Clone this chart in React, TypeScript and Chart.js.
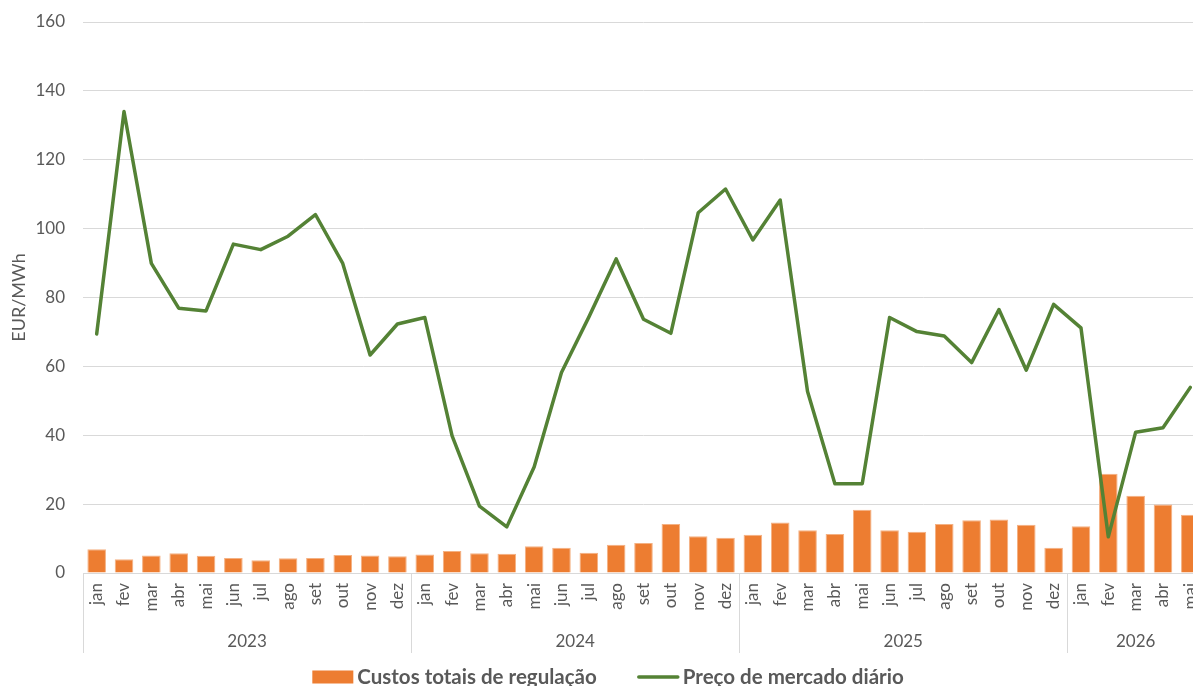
import { useEffect, useRef } from "react";
import { Chart, registerables } from "chart.js";

Chart.register(...registerables);

const monthNames = ["jan", "fev", "mar", "abr", "mai", "jun", "jul", "ago", "set", "out", "nov", "dez"];
const years = ["2023", "2024", "2025", "2026"];
const monthsPerYear = [12, 12, 12, 5];

const regulationCosts = [
  6.9, 4.0, 5.1, 5.7, 5.0, 4.35, 3.7, 4.3, 4.35, 5.2, 5.1, 4.9,
  5.4, 6.4, 5.7, 5.6, 7.8, 7.35, 5.9, 8.2, 8.7, 14.2, 10.7, 10.25,
  11.1, 14.7, 12.4, 11.3, 18.4, 12.4, 12.0, 14.2, 15.3, 15.5, 14.0, 7.35,
  13.55, 28.8, 22.4, 19.9, 16.9,
];

const dailyMarketPrice = [
  69.4, 134.0, 89.9, 76.9, 76.1, 95.5, 93.9, 97.8, 104.1, 89.9, 63.3, 72.3,
  74.2, 39.8, 19.4, 13.4, 30.8, 58.2, 74.3, 91.2, 73.7, 69.6, 104.6, 111.5,
  96.7, 108.3, 52.7, 25.9, 25.9, 74.2, 70.1, 68.8, 61.1, 76.5, 58.9, 78.0,
  71.2, 10.5, 40.9, 42.2, 53.9,
];

const seriesLabels = ["Custos totais de regulação", "Preço de mercado diário"];
const yTitle = "EUR/MWh";
const yMin = 0;
const yMax = 160;
const yStep = 20;

const TEXT = "#595959";
const GRID = "#d9d9d9";
const ORANGE = "#ED7D31";
const GREEN = "#548235";
const FONT = "Lato";

const categoryLabels: string[] = [];
monthsPerYear.forEach((n) => {
  for (let i = 0; i < n; i++) categoryLabels.push(monthNames[i]);
});

const yearGroupPlugin = {
  id: "yearGroups",
  afterDraw(chart: any) {
    const { ctx, chartArea, scales } = chart;
    const x = scales.x;
    const half = (x.getPixelForValue(1) - x.getPixelForValue(0)) / 2;
    const top = chartArea.bottom;
    const bottom = chartArea.bottom + 80;
    ctx.save();
    ctx.strokeStyle = GRID;
    ctx.lineWidth = 1;
    ctx.fillStyle = TEXT;
    ctx.font = `17px ${FONT}`;
    ctx.textAlign = "center";
    ctx.textBaseline = "middle";
    let start = 0;
    years.forEach((yr, i) => {
      const n = monthsPerYear[i];
      const left = x.getPixelForValue(start) - half;
      const right = x.getPixelForValue(start + n - 1) + half;
      const lx = Math.round(left) + 0.5;
      ctx.beginPath();
      ctx.moveTo(lx, top);
      ctx.lineTo(lx, bottom);
      ctx.stroke();
      if (i === years.length - 1) {
        const rx = Math.round(right) + 0.5;
        ctx.beginPath();
        ctx.moveTo(rx, top);
        ctx.lineTo(rx, bottom);
        ctx.stroke();
      }
      ctx.fillText(yr, (left + right) / 2, chartArea.bottom + 69);
      start += n;
    });
    ctx.restore();
  },
};

const legendPlugin = {
  id: "customLegend",
  afterDraw(chart: any) {
    const { ctx } = chart;
    const ds = chart.data.datasets;
    ctx.save();
    ctx.font = `bold 20.5px ${FONT}`;
    ctx.textBaseline = "middle";
    ctx.textAlign = "left";
    const sym = 41;
    const gapText = 4;
    const gapItem = 41;
    const widths = ds.map((d: any) => sym + gapText + ctx.measureText(d.label).width);
    const total = widths.reduce((a: number, b: number) => a + b, 0) + gapItem * (ds.length - 1);
    let cx = 608 - total / 2;
    const cy = 677;
    ds.forEach((d: any, i: number) => {
      if (d.type === "bar") {
        ctx.fillStyle = d.backgroundColor;
        ctx.fillRect(cx, cy - 6.5, sym, 13);
      } else {
        ctx.strokeStyle = d.borderColor;
        ctx.lineWidth = 3.5;
        ctx.lineCap = "round";
        ctx.beginPath();
        ctx.moveTo(cx + 1, cy);
        ctx.lineTo(cx + sym - 1, cy);
        ctx.stroke();
      }
      ctx.fillStyle = TEXT;
      ctx.fillText(d.label, cx + sym + gapText, cy);
      cx += widths[i] + gapItem;
    });
    ctx.restore();
  },
};

export default function App() {
  const ref = useRef<HTMLCanvasElement | null>(null);

  useEffect(() => {
    if (!ref.current) return;
    Chart.defaults.font.family = FONT;
    const chart = new Chart(ref.current, {
      type: "bar",
      data: {
        labels: categoryLabels,
        datasets: [
          {
            type: "bar",
            label: seriesLabels[0],
            data: regulationCosts,
            backgroundColor: ORANGE,
            borderColor: "#F4B183",
            borderWidth: 1,
            barPercentage: 0.68,
            categoryPercentage: 1,
            order: 2,
          } as any,
          {
            type: "line",
            label: seriesLabels[1],
            data: dailyMarketPrice,
            borderColor: GREEN,
            backgroundColor: GREEN,
            borderWidth: 3.5,
            pointRadius: 0,
            tension: 0,
            borderJoinStyle: "round",
            borderCapStyle: "round",
            order: 1,
          } as any,
        ],
      },
      options: {
        responsive: false,
        animation: false,
        devicePixelRatio: 1,
        layout: { padding: { left: 0, right: 13, top: 22, bottom: 0 } },
        plugins: {
          legend: { display: false },
          tooltip: { enabled: false },
        },
        scales: {
          x: {
            grid: { display: false, drawTicks: false },
            border: { display: true, color: GRID, width: 1 },
            ticks: {
              autoSkip: false,
              minRotation: 90,
              maxRotation: 90,
              padding: 10,
              color: TEXT,
              font: { size: 17, family: FONT },
            },
            afterFit: (s: any) => {
              s.height = 113;
              s.paddingLeft = 0;
              s.paddingRight = 0;
            },
          },
          y: {
            min: yMin,
            max: yMax,
            grid: { color: GRID, drawTicks: false, lineWidth: 1 },
            border: { display: false },
            ticks: {
              stepSize: yStep,
              padding: 18,
              color: TEXT,
              font: { size: 17, family: FONT },
            },
            title: {
              display: true,
              text: yTitle,
              color: TEXT,
              font: { size: 18, family: FONT },
              padding: { top: 8, bottom: 0 },
            },
            afterFit: (s: any) => {
              s.width = 83;
              s.paddingTop = 0;
              s.paddingBottom = 0;
            },
          },
        },
      },
      plugins: [yearGroupPlugin, legendPlugin],
    });
    return () => chart.destroy();
  }, []);

  return (
    <div
      style={{
        position: "fixed",
        left: 0,
        top: 0,
        width: 1193,
        height: 686,
        overflow: "hidden",
        background: "#fff",
      }}
    >
      <canvas
        ref={ref}
        width={1217}
        height={686}
        style={{ display: "block", width: 1217, height: 686 }}
      />
    </div>
  );
}
